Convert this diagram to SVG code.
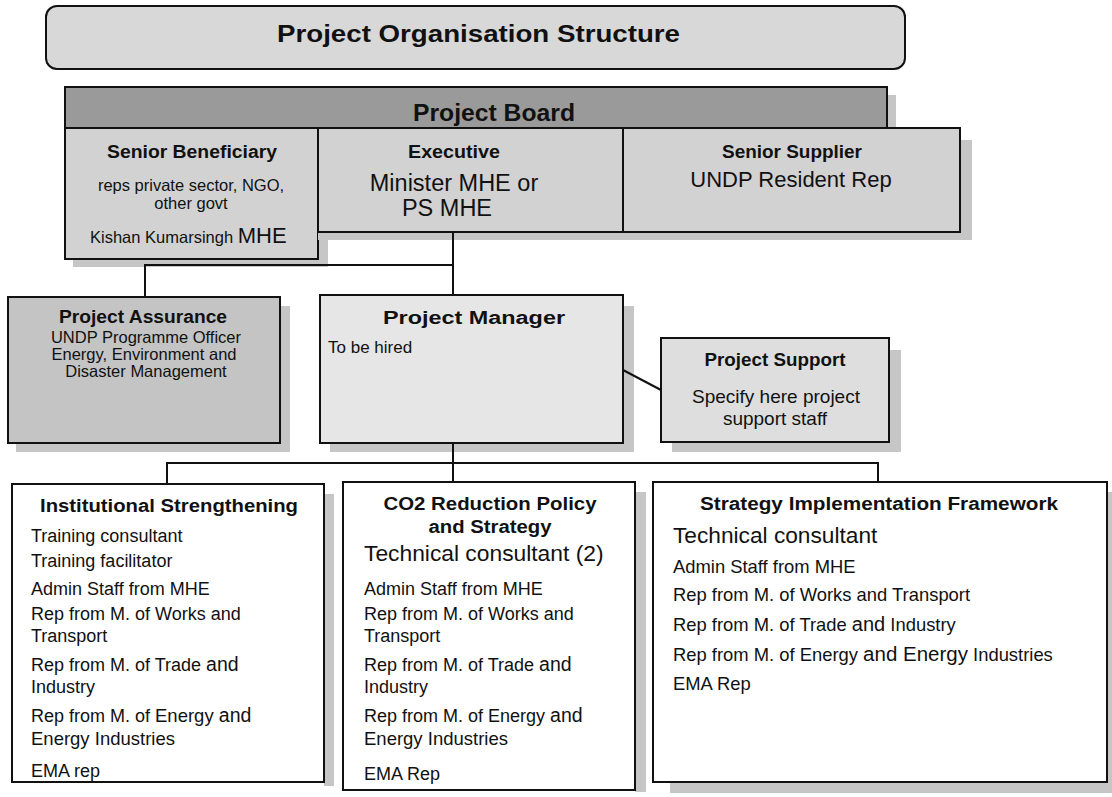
<svg xmlns="http://www.w3.org/2000/svg" width="1112" height="797" viewBox="0 0 1112 797">
  <defs>
    <style>
      .box{stroke:#111;stroke-width:2}
      .sh{fill:#c6c6c6}
      .t{font-family:"Liberation Sans",Arial,sans-serif;fill:#111;font-size:18px}
      .b{font-weight:bold}
      .c{text-anchor:middle}
      .big{font-size:19.5px}
      .en{font-size:18.5px}
      .ln{stroke:#111;stroke-width:2;fill:none}
    </style>
  </defs>
  <rect width="1112" height="797" fill="#fff"/>

  <!-- heading banner -->
  <g id="title">
    <rect class="box" x="46" y="6" width="859" height="63" rx="11" fill="#d8d8d8"/>
    <text class="t b" x="277" y="42" textLength="403" lengthAdjust="spacingAndGlyphs" style="font-size:24px">Project Organisation Structure</text>
  </g>

  <!-- board header band -->
  <g id="project-board">
    <rect class="sh" x="887" y="95" width="9" height="33"/>
    <rect class="box" x="65" y="87" width="822" height="41" fill="#9a9a9a"/>
    <text class="t b" x="413" y="121" textLength="162" lengthAdjust="spacingAndGlyphs" style="font-size:24px">Project Board</text>
  </g>

  <g id="senior-beneficiary">
    <rect class="sh" x="318" y="140" width="10" height="127"/>
    <rect class="sh" x="73" y="259" width="255" height="8"/>
    <rect class="box" x="65" y="128" width="253" height="131" fill="#d2d2d2"/>
    <text class="t b c" x="192" y="158" textLength="170" lengthAdjust="spacingAndGlyphs" style="font-size:18px">Senior Beneficiary</text>
    <text class="t c" x="191" y="191" style="font-size:16.5px">reps private sector, NGO,</text>
    <text class="t c" x="191" y="209" style="font-size:16.5px">other govt</text>
    <text class="t" x="90" y="243" style="font-size:16.5px">Kishan Kumarsingh <tspan style="font-size:22px">MHE</tspan></text>
  </g>

  <g id="executive">
    <rect class="sh" x="318" y="232" width="305" height="8"/>
    <rect class="box" x="318" y="128" width="305" height="104" fill="#d2d2d2"/>
    <text class="t b c" x="454" y="158" textLength="92" lengthAdjust="spacingAndGlyphs" style="font-size:18px">Executive</text>
    <text class="t c" x="454" y="191" style="font-size:23.5px">Minister MHE or</text>
    <text class="t c" x="447" y="216" style="font-size:23.5px">PS MHE</text>
  </g>

  <g id="senior-supplier">
    <rect class="sh" x="960" y="140" width="12" height="100"/>
    <rect class="sh" x="623" y="232" width="349" height="8"/>
    <rect class="box" x="623" y="128" width="337" height="104" fill="#d2d2d2"/>
    <text class="t b c" x="792" y="158" textLength="140" lengthAdjust="spacingAndGlyphs" style="font-size:18px">Senior Supplier</text>
    <text class="t c" x="791" y="187" style="font-size:22px">UNDP Resident Rep</text>
  </g>

  <g id="project-assurance">
    <rect class="sh" x="280" y="306" width="10" height="146"/>
    <rect class="sh" x="16" y="443" width="274" height="9"/>
    <rect class="box" x="8" y="297" width="272" height="146" fill="#c4c4c4"/>
    <text class="t b c" x="143" y="323" textLength="168" lengthAdjust="spacingAndGlyphs" style="font-size:18px">Project Assurance</text>
    <text class="t c" x="146" y="343" style="font-size:16.5px">UNDP Programme Officer</text>
    <text class="t c" x="144" y="360" style="font-size:16.5px">Energy, Environment and</text>
    <text class="t c" x="146" y="377" style="font-size:16.5px">Disaster Management</text>
  </g>

  <g id="project-manager">
    <rect class="sh" x="623" y="306" width="11" height="146"/>
    <rect class="sh" x="330" y="443" width="304" height="9"/>
    <rect class="box" x="320" y="295" width="303" height="148" fill="#e6e6e6"/>
    <text class="t b" x="383" y="324" textLength="182" lengthAdjust="spacingAndGlyphs" style="font-size:18px">Project Manager</text>
    <text class="t" x="328" y="353" style="font-size:17px">To be hired</text>
  </g>

  <g id="project-support">
    <rect class="sh" x="889" y="350" width="12" height="102"/>
    <rect class="sh" x="672" y="442" width="229" height="10"/>
    <rect class="box" x="661" y="338" width="228" height="104" fill="#dedede"/>
    <text class="t b c" x="775" y="366" textLength="141" lengthAdjust="spacingAndGlyphs" style="font-size:18px">Project Support</text>
    <text class="t c" x="776" y="403" style="font-size:19px">Specify here project</text>
    <text class="t c" x="775" y="425" style="font-size:19px">support staff</text>
  </g>

  <g id="institutional-strengthening">
    <rect class="sh" x="324" y="494" width="10" height="292"/>
    <rect class="box" x="12" y="484" width="312" height="298" fill="#fff"/>
    <text class="t b" x="40" y="512" textLength="258" lengthAdjust="spacingAndGlyphs" style="font-size:18px">Institutional Strengthening</text>
    <text class="t" x="31" y="542">Training consultant</text>
    <text class="t" x="31" y="567">Training facilitator</text>
    <text class="t" x="31" y="595">Admin Staff from MHE</text>
    <text class="t" x="31" y="620">Rep from M. of Works and</text>
    <text class="t" x="31" y="642">Transport</text>
    <text class="t" x="31" y="671">Rep from M. of Trade <tspan class="big">and</tspan></text>
    <text class="t" x="31" y="693">Industry</text>
    <text class="t" x="31" y="722">Rep from M. of  <tspan class="en">Energy </tspan><tspan class="big">and</tspan></text>
    <text class="t en" x="31" y="745">Energy Industries</text>
    <text class="t" x="31" y="777">EMA rep</text>
  </g>

  <g id="co2-reduction">
    <rect class="sh" x="635" y="492" width="11" height="300"/>
    <rect class="box" x="343" y="482" width="292" height="308" fill="#fff"/>
    <text class="t b c" x="490" y="510" textLength="213" lengthAdjust="spacingAndGlyphs" style="font-size:18px">CO2 Reduction Policy</text>
    <text class="t b c" x="490" y="533" textLength="123" lengthAdjust="spacingAndGlyphs" style="font-size:18px">and Strategy</text>
    <text class="t" x="364" y="561" style="font-size:22.8px">Technical consultant (2)</text>
    <text class="t" x="364" y="595">Admin Staff from MHE</text>
    <text class="t" x="364" y="620">Rep from M. of Works and</text>
    <text class="t" x="364" y="642">Transport</text>
    <text class="t" x="364" y="671">Rep from M. of Trade <tspan class="big">and</tspan></text>
    <text class="t" x="364" y="693">Industry</text>
    <text class="t" x="364" y="722">Rep from M. of Energy <tspan class="big">and</tspan></text>
    <text class="t en" x="364" y="745">Energy Industries</text>
    <text class="t" x="364" y="780">EMA Rep</text>
  </g>

  <g id="strategy-implementation">
    <rect class="sh" x="1107" y="492" width="5" height="300"/>
    <rect class="sh" x="670" y="782" width="442" height="11"/>
    <rect class="box" x="653" y="482" width="454" height="300" fill="#fff"/>
    <text class="t b" x="700" y="510" textLength="358" lengthAdjust="spacingAndGlyphs" style="font-size:18px">Strategy Implementation Framework</text>
    <text class="t" x="673" y="543" style="font-size:22.7px">Technical consultant</text>
    <text class="t" x="673" y="573" style="font-size:18.4px">Admin Staff from MHE</text>
    <text class="t" x="673" y="601" style="font-size:18.4px">Rep from M. of Works and Transport</text>
    <text class="t" x="673" y="631" style="font-size:18.4px">Rep from M. of Trade <tspan style="font-size:20px">and</tspan> Industry</text>
    <text class="t" x="673" y="661" style="font-size:18.4px">Rep from M. of Energy <tspan style="font-size:20.5px">and Energy</tspan> Industries</text>
    <text class="t" x="673" y="690" style="font-size:18.4px">EMA Rep</text>
  </g>

  <!-- connecting lines -->
  <g id="connectors">
    <path class="ln" d="M453 232 V295"/>
    <path class="ln" d="M453 265 H145 V297"/>
    <path class="ln" d="M623 370 L661 390"/>
    <path class="ln" d="M453 443 V482"/>
    <path class="ln" d="M167 484 V463 H878 V482"/>
  </g>
</svg>
